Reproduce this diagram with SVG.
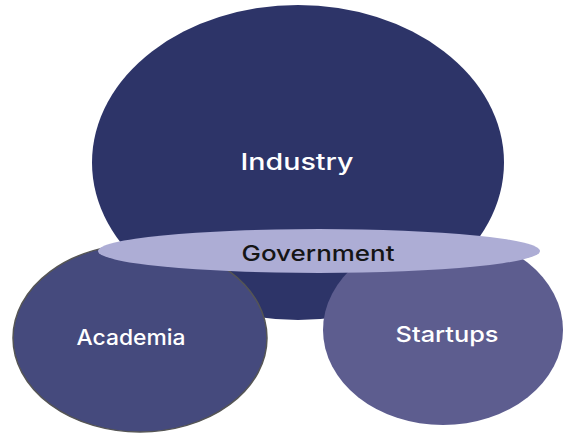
<svg xmlns="http://www.w3.org/2000/svg" width="565" height="433" viewBox="0 0 565 433">
<style>
.lbl{font-family:Inter,"Open Sans","Liberation Sans",sans-serif;font-weight:500;text-anchor:middle}
.w{fill:#ffffff}
.d{fill:#151515}
</style>
<rect width="565" height="433" fill="#ffffff"/>
<g id="industry">
<ellipse cx="298" cy="162.5" rx="206" ry="157.5" fill="#2d3468"/>
<text class="lbl w" x="297" y="170" font-size="23" textLength="113" lengthAdjust="spacingAndGlyphs">Industry</text>
</g>
<g id="academia">
<ellipse cx="140" cy="338" rx="127" ry="94" fill="#454a7d" stroke="#555555" stroke-width="1.5"/>
<text class="lbl w" x="131" y="345" font-size="21" textLength="109" lengthAdjust="spacingAndGlyphs">Academia</text>
</g>
<g id="startups">
<ellipse cx="443" cy="330" rx="120" ry="95" fill="#5d5d8f"/>
<text class="lbl w" x="447" y="342" font-size="22" textLength="103" lengthAdjust="spacingAndGlyphs">Startups</text>
</g>
<g id="government">
<ellipse cx="319" cy="251" rx="221" ry="22" fill="#adadd5"/>
<text class="lbl d" x="318" y="261" font-size="22" textLength="153" lengthAdjust="spacingAndGlyphs">Government</text>
</g>
<g id="connectors"/>
</svg>
